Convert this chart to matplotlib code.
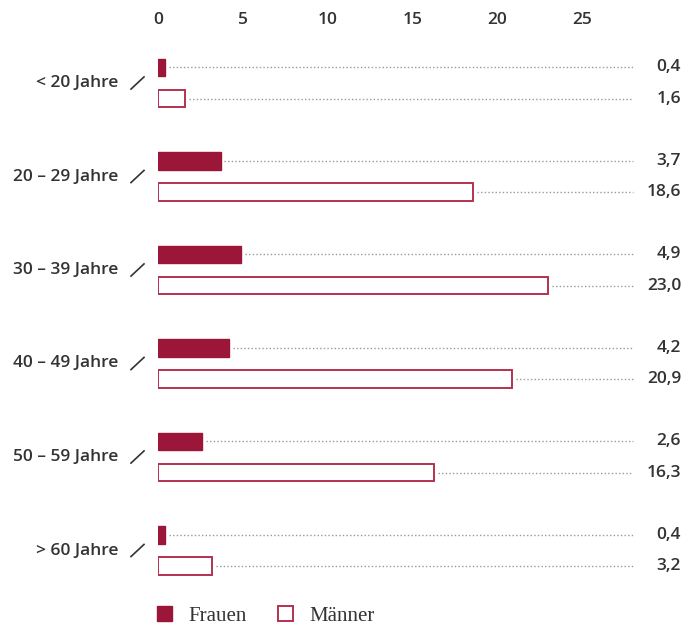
import matplotlib
matplotlib.use("Agg")
import matplotlib.pyplot as plt
from matplotlib.patches import Patch

categories = ["< 20 Jahre", "20 – 29 Jahre", "30 – 39 Jahre", "40 – 49 Jahre", "50 – 59 Jahre", "> 60 Jahre"]
frauen = [0.4, 3.7, 4.9, 4.2, 2.6, 0.4]
maenner = [1.6, 18.6, 23.0, 20.9, 16.3, 3.2]
ticks = [0, 5, 10, 15, 20, 25]

RED = "#9b1639"
EDGE = "#b4324f"
TXT = "#333333"
DOT = "#9a9a9a"
FONT = ["Open Sans", "DejaVu Sans"]

W, H = 699, 627
fig = plt.figure(figsize=(W / 100, H / 100), dpi=100)
px_per_unit = 16.95
x0 = 158
x_end = 633
xmax = (x_end - x0) / px_per_unit
top_px, bot_px = 40, 590
row0, row_step = 83, 93.5
ax = fig.add_axes([x0 / W, 1 - bot_px / H, (x_end - x0) / W, (bot_px - top_px) / H])
ax.set_xlim(0, xmax)
ax.set_ylim((bot_px - row0) / row_step, (top_px - row0) / row_step)
for s in ax.spines.values():
    s.set_visible(False)
ax.set_yticks([])
ax.set_xticks(ticks)
ax.set_xticklabels([str(t) for t in ticks], fontfamily=FONT, fontweight="semibold", fontsize=12.5, color=TXT)
ax.tick_params(axis="x", top=False, bottom=False, labeltop=True, labelbottom=False, length=0, pad=9)

off = 0.166
h = 0.19
val_x = (681 - x0) / px_per_unit
lab_x = (118 - x0) / px_per_unit
gap = 0.22

def fmt(v):
    return f"{v:.1f}".replace(".", ",")

for i, cat in enumerate(categories):
    yf, ym = i - off, i + off
    ax.barh(yf, frauen[i], height=h, color=RED, edgecolor=RED, linewidth=1.0)
    ax.barh(ym, maenner[i], height=h, facecolor="white", edgecolor=EDGE, linewidth=1.4)
    for y, v in ((yf, frauen[i]), (ym, maenner[i])):
        ax.plot([v + gap, xmax], [y, y], color=DOT, linestyle=(0, (1, 1.6)), linewidth=1.0, clip_on=False)
        ax.text(val_x, y, fmt(v), ha="right", va="center", fontfamily=FONT, fontweight="semibold",
                fontsize=12.5, color=TXT, clip_on=False)
    ax.text(lab_x, i, cat, ha="right", va="center", fontfamily=FONT, fontweight="semibold",
            fontsize=12.5, color=TXT, clip_on=False)
    ax.plot([(131 - x0) / px_per_unit, (144 - x0) / px_per_unit], [i + 0.065, i - 0.065],
            color=TXT, linewidth=1.2, clip_on=False)

handles = [Patch(facecolor=RED, edgecolor=RED, label="Frauen"),
           Patch(facecolor="white", edgecolor=EDGE, linewidth=1.4, label="Männer")]
leg = fig.legend(handles=handles, loc="center left", bbox_to_anchor=(138 / W, 1 - 616 / H), ncol=2,
                 frameon=False, prop={"family": ["Liberation Serif", "DejaVu Serif"], "size": 15},
                 handlelength=0.75, handleheight=0.75, handletextpad=0.75, columnspacing=1.5)
for t in leg.get_texts():
    t.set_color(TXT)

fig.savefig("out.png", dpi=100)
